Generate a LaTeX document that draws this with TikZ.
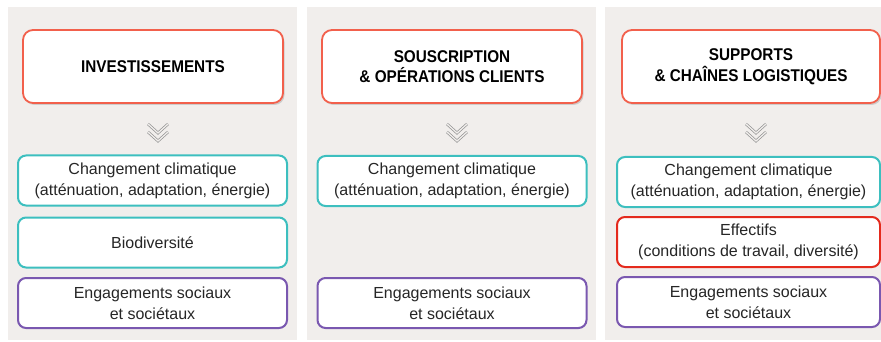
\documentclass[tikz,border=0pt]{standalone}
\usepackage{fontspec}
\setmainfont{Liberation Sans}
\newfontfamily\titlefont{Liberation Sans}[FakeStretch=0.9]
\usetikzlibrary{positioning, shadows}
\definecolor{panelgray}{HTML}{F1EEEC}
\definecolor{titlered}{HTML}{F2604C}
\definecolor{climteal}{HTML}{3DBFBF}
\definecolor{socpurple}{HTML}{7A58B0}
\definecolor{staffred}{HTML}{E42A1D}
\definecolor{textgray}{HTML}{262626}
\tikzstyle{panel} = [fill=panelgray, draw=none]
\tikzstyle{titlebox} = [rectangle, rounded corners=10pt, minimum width=260pt, minimum height=73pt, align=center, draw=titlered, line width=1.8pt, fill=white, text=black, font=\titlefont\bfseries\fontsize{17}{20.5}\selectfont, drop shadow={shadow xshift=1.5pt, shadow yshift=-2pt, opacity=0.3}]
\tikzstyle{topicbox} = [rectangle, rounded corners=8pt, minimum width=269pt, minimum height=50pt, align=center, line width=2pt, fill=white, text=textgray, font=\fontsize{16}{21}\selectfont]
\tikzstyle{climate} = [topicbox, draw=climteal]
\tikzstyle{social} = [topicbox, draw=socpurple]
\tikzstyle{staff} = [topicbox, draw=staffred]
\tikzset{chevron/.pic={
        \foreach \dy in {0,8}
            \draw[gray!85, double=panelgray, double distance=1.3pt, line width=0.7pt] (-10,\dy) -- (0,\dy+9) -- (10,\dy);
    }
}

\begin{document}
\begin{tikzpicture}[x=1pt, y=-1pt]
    \useasboundingbox (0,0) rectangle (881,342);
    \fill[white] (0,0) rectangle (881,342);
    % panels
    \fill[panel] (8,7) rectangle (297,340);
    \fill[panel] (307,7) rectangle (596,340);
    \fill[panel] (605,7) rectangle (881,340);

    % investissements
    \node (invest) [titlebox] at (153,66.5) {INVESTISSEMENTS};
    \pic at (158,124) {chevron};
    \node (clim1) [climate] at (152.5,180.5) {Changement climatique\\(atténuation, adaptation, énergie)};
    \node (biodiv) [climate, below=10pt of clim1] {Biodiversité};
    \node (soc1) [social, below=8.5pt of biodiv] {Engagements sociaux\\et sociétaux};

    % souscription
    \node (souscr) [titlebox] at (452,66.5) {SOUSCRIPTION\\\& OPÉRATIONS CLIENTS};
    \pic at (457,124) {chevron};
    \node (clim2) [climate] at (452,181) {Changement climatique\\(atténuation, adaptation, énergie)};
    \node (soc2) [social] at (452,303) {Engagements sociaux\\et sociétaux};

    % supports
    \node (supports) [titlebox, minimum width=258pt] at (751,66.5) {SUPPORTS\\\& CHAÎNES LOGISTIQUES};
    \pic at (756,124) {chevron};
    \node (clim3) [climate, minimum width=263pt] at (748.5,182) {Changement climatique\\(atténuation, adaptation, énergie)};
    \node (effectifs) [staff, minimum width=263pt, below=8pt of clim3] {Effectifs\\(conditions de travail, diversité)};
    \node (soc3) [social, minimum width=263pt, below=8pt of effectifs] {Engagements sociaux\\et sociétaux};
\end{tikzpicture}
\end{document}
